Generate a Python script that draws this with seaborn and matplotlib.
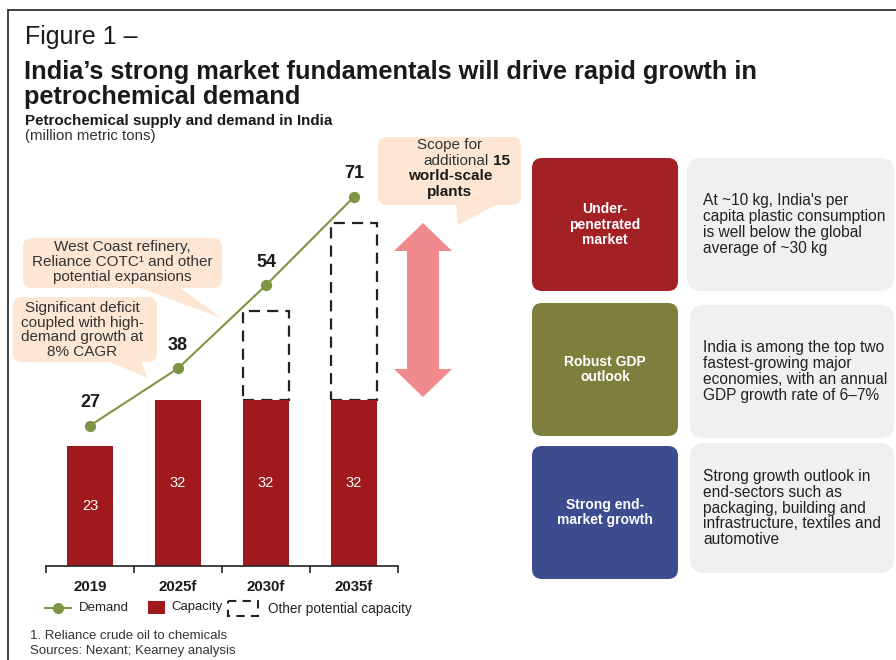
import numpy as np
import pandas as pd
import matplotlib
matplotlib.use("Agg")
import matplotlib.pyplot as plt
import seaborn as sns
from matplotlib.patches import FancyBboxPatch, Polygon, Rectangle
from matplotlib.lines import Line2D

# ---------------- data ----------------
years = ["2019", "2025f", "2030f", "2035f"]
demand = [27, 38, 54, 71]
capacity = [23, 32, 32, 32]
other_potential = [0, 0, 17, 34]   # additional potential capacity on top of capacity

drivers = ["Under-\npenetrated\nmarket", "Robust GDP\noutlook", "Strong end-\nmarket growth"]
driver_notes = [
    "At ~10 kg, India's per\ncapita plastic consumption\nis well below the global\naverage of ~30 kg",
    "India is among the top two\nfastest-growing major\neconomies, with an annual\nGDP growth rate of 6\u20137%",
    "Strong growth outlook in\nend-sectors such as\npackaging, building and\ninfrastructure, textiles and\nautomotive",
]

df = pd.DataFrame({"year": years, "demand": demand, "capacity": capacity,
                   "other": other_potential})

# ---------------- style ----------------
sns.set_theme(style="white")
plt.rcParams["font.family"] = ["Liberation Sans", "DejaVu Sans"]

RED = "#A0191C"
OLIVE_LINE = "#7F9445"
PEACH = "#FDE6D3"
GREY = "#F0F0F0"
TXT = "#1a1a1a"

W, H = 896, 660
fig = plt.figure(figsize=(W / 100, H / 100), dpi=100)
fig.patch.set_facecolor("white")

bg = fig.add_axes([0, 0, 1, 1], zorder=0)
bg.set_xlim(0, W)
bg.set_ylim(H, 0)
bg.axis("off")


def px_axes(x0, y0, x1, y1, **kw):
    return fig.add_axes([x0 / W, 1 - y1 / H, (x1 - x0) / W, (y1 - y0) / H], **kw)


# frame lines (top and left)
bg.plot([8, W], [10, 10], color="#222", lw=1.2)
bg.plot([8, 8], [10, H], color="#222", lw=1.2)

# titles
bg.text(25, 37, "Figure 1 \u2013", fontsize=18, color=TXT, va="center", ha="left")
bg.text(24, 72, "India\u2019s strong market fundamentals will drive rapid growth in",
        fontsize=18.3, fontweight="bold", color=TXT, va="center", ha="left")
bg.text(24, 97, "petrochemical demand", fontsize=18.3, fontweight="bold",
        color=TXT, va="center", ha="left")
bg.text(25, 121, "Petrochemical supply and demand in India", fontsize=10.9,
        fontweight="bold", color=TXT, va="center", ha="left")
bg.text(25, 136, "(million metric tons)", fontsize=10.8, color="#333", va="center", ha="left")


# speech bubbles
def bubble(x0, y0, x1, y1, tail):
    bg.add_patch(FancyBboxPatch((x0, y0), x1 - x0, y1 - y0,
                                boxstyle="round,pad=0,rounding_size=9",
                                fc=PEACH, ec="none", zorder=1))
    bg.add_patch(Polygon(tail, closed=True, fc=PEACH, ec="none", zorder=1))


bubble(23, 238, 222, 288, [(135, 286), (178, 286), (221, 318)])
bg.text(122, 262, "West Coast refinery,\nReliance COTC\u00b9 and other\npotential expansions",
        fontsize=11, color="#333", ha="center", va="center", linespacing=1.08, zorder=2)

bubble(13, 297, 157, 362, [(105, 360), (140, 360), (148, 378)])
bg.text(82, 330, "Significant deficit\ncoupled with high-\ndemand growth at\n8% CAGR",
        fontsize=11, color="#333", ha="center", va="center", linespacing=1.08, zorder=2)

bubble(378, 137, 521, 205, [(456, 203), (500, 203), (458, 225)])
bg.text(450, 145, "Scope for", fontsize=11, color="#333", ha="center", va="center", zorder=2)
bg.text(489, 161, "additional", fontsize=11, color="#333", ha="right", va="center", zorder=2)
bg.text(493, 161, "15", fontsize=11, fontweight="bold", color=TXT, ha="left",
        va="center", zorder=2)
bg.text(450, 176, "world-scale", fontsize=11, fontweight="bold", color=TXT,
        ha="center", va="center", zorder=2)
bg.text(450, 192, "plants", fontsize=11, fontweight="bold", color=TXT,
        ha="center", va="center", zorder=2)

# double-headed arrow
cx, t, b = 423, 223, 397
hw, sw, hl = 29, 16, 28
arrow = [(cx, t), (cx + hw, t + hl), (cx + sw, t + hl), (cx + sw, b - hl), (cx + hw, b - hl),
         (cx, b), (cx - hw, b - hl), (cx - sw, b - hl), (cx - sw, t + hl), (cx - hw, t + hl)]
bg.add_patch(Polygon(arrow, closed=True, fc="#F08A8C", ec="none", zorder=1))

# right-hand driver boxes
box_colors = ["#A32125", "#7E7F3D", "#3D4B8F"]
color_boxes = [(532, 158, 678, 291), (532, 303, 678, 436), (532, 446, 678, 579)]
grey_boxes = [(687, 158, 894, 291), (690, 305, 894, 438), (690, 443, 894, 573)]
for lab, note, colr, cb, gb in zip(drivers, driver_notes, box_colors, color_boxes, grey_boxes):
    x0, y0, x1, y1 = cb
    bg.add_patch(FancyBboxPatch((x0, y0), x1 - x0, y1 - y0,
                                boxstyle="round,pad=0,rounding_size=10",
                                fc=colr, ec="none", zorder=1))
    bg.text((x0 + x1) / 2, (y0 + y1) / 2, lab, fontsize=10, fontweight="bold",
            color="white", ha="center", va="center", linespacing=1.1, zorder=2)
    gx0, gy0, gx1, gy1 = gb
    bg.add_patch(FancyBboxPatch((gx0, gy0), gx1 - gx0, gy1 - gy0,
                                boxstyle="round,pad=0,rounding_size=14",
                                fc=GREY, ec="none", zorder=1))
    bg.text(703, (gy0 + gy1) / 2, note, fontsize=11.2, color="#222",
            ha="left", va="center", linespacing=1.08, zorder=2)

# ---------------- chart ----------------
# x: categories at 90..353 px (88 px apart); y: 0 at 566 px, 5.2 px per unit
ax = px_axes(46, 150, 398, 566, zorder=2)
ax.patch.set_alpha(0)

sns.barplot(data=df, x="year", y="capacity", order=years, color=RED, saturation=1,
            width=0.53, linewidth=0, ax=ax)
for p in ax.patches:
    p.set_zorder(2)
    p.set_edgecolor("none")

# "other potential capacity" stacked on top of capacity (dashed outline only)
dfo = df[df["other"] > 0]
n1 = len(ax.patches)
sns.barplot(data=dfo, x="year", y="other", order=years, fill=False, color="#222",
            width=0.53, linewidth=1.6, linestyle=(0, (5, 3.2)), ax=ax)
for p in ax.patches[n1:]:
    idx = int(round(p.get_x() + p.get_width() / 2))
    p.set_y(capacity[idx])
    p.set_zorder(1)

sns.pointplot(data=df, x="year", y="demand", order=years, color=OLIVE_LINE,
              markers="o", markersize=7, linewidth=1.5, ax=ax)
for ln in ax.lines:
    ln.set_zorder(3)

for i, v in enumerate(demand):
    ax.text(i, v + 4.4, str(v), ha="center", va="center", fontsize=13,
            fontweight="bold", color=TXT, zorder=4)
for i, v in enumerate(capacity):
    ax.text(i, v / 2, str(v), ha="center", va="center", fontsize=10.5, color="white",
            zorder=4)

ax.set_xlim(-0.5, 3.5)
ax.set_ylim(0, 80)
ax.set_xlabel("")
ax.set_ylabel("")
ax.set_yticks([])
for s in ["left", "top", "right"]:
    ax.spines[s].set_visible(False)
ax.spines["bottom"].set_color("#222")
ax.spines["bottom"].set_linewidth(1.2)
ax.spines["bottom"].set_zorder(5)
ax.set_xticks(range(len(years)))
ax.set_xticklabels(years, fontsize=10.8, fontweight="bold", color=TXT)
ax.set_xticks(np.arange(-0.5, len(years), 1.0), minor=True)
ax.tick_params(axis="x", which="major", length=0, pad=10)
ax.tick_params(axis="x", which="minor", length=5, width=1.2, color="#222",
               direction="out", bottom=True)

# ---------------- legend (drawn in figure pixel space) ----------------
ly = 608
bg.add_line(Line2D([45, 71], [ly, ly], color=OLIVE_LINE, lw=1.5))
bg.add_line(Line2D([58], [ly], color=OLIVE_LINE, marker="o", markersize=7, lw=0))
bg.text(79, ly, "Demand", fontsize=9.5, color="#222", va="center", ha="left")
bg.add_patch(Rectangle((148, 601), 17, 13, fc=RED, ec="none"))
bg.text(171, ly - 1, "Capacity", fontsize=9.5, color="#222", va="center", ha="left")
bg.add_patch(Rectangle((228, 601), 30, 15, fill=False, ec="#222", lw=1.5,
                       linestyle=(0, (4, 3))))
bg.text(268, ly + 1, "Other potential capacity", fontsize=9.8, color="#222",
        va="center", ha="left")

# footnotes
bg.text(30, 636, "1. Reliance crude oil to chemicals", fontsize=9.5, color="#333",
        va="center", ha="left")
bg.text(30, 651, "Sources: Nexant; Kearney analysis", fontsize=9.5, color="#333",
        va="center", ha="left")

fig.savefig("out.png", dpi=100, facecolor="white")
